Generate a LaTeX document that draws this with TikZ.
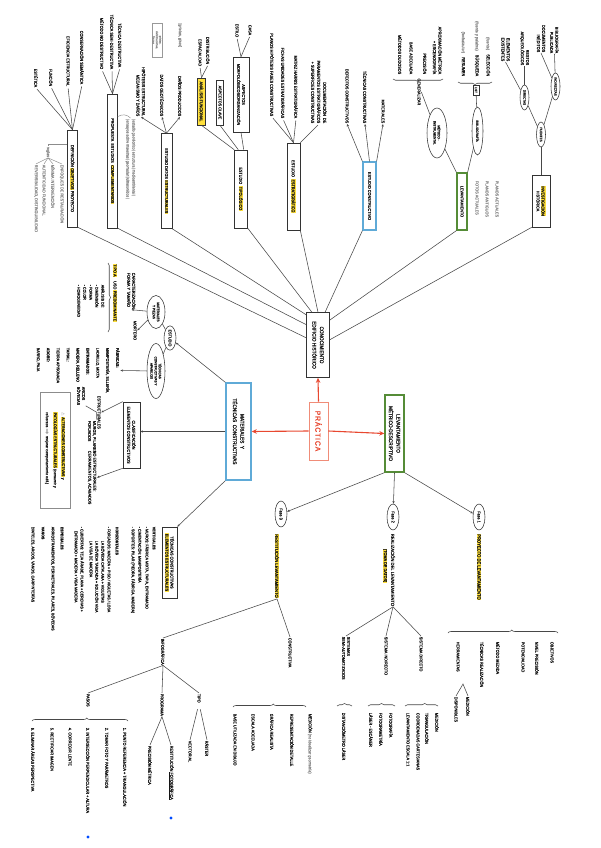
\documentclass[tikz,border=0pt]{standalone}
\usepackage{fontspec}
\setmainfont{Liberation Sans}[FakeStretch=0.9, FakeBold=0.9]
\newfontfamily\dejavu{DejaVu Sans}
\usetikzlibrary{shapes.geometric,arrows.meta,calc,decorations.pathreplacing}
\definecolor{hly}{RGB}{255,224,60}
\definecolor{redc}{RGB}{232,72,48}
\definecolor{redl}{RGB}{240,140,120}
\definecolor{bluec}{RGB}{95,170,215}
\definecolor{greenc}{RGB}{85,140,55}
\definecolor{ink}{RGB}{20,20,20}
\newcommand\fs{\fontsize{4.2}{5}\selectfont}
\newcommand\fm{\fontsize{4.6}{5.8}\selectfont}
\newcommand\fb{\fontsize{5.2}{7.5}\selectfont}
\newcommand\fe{\fontsize{3.4}{4.2}\selectfont}
\newcommand\hlt[1]{{\setlength{\fboxsep}{0.4pt}\colorbox{hly}{#1}}}
\begin{document}
\begin{tikzpicture}[x=1pt,y=-1pt,
  every node/.style={rotate=-90, inner sep=0.6pt, font=\fs, text=ink},
  tl/.style={anchor=west, align=left},
  te/.style={anchor=east, align=right},
  bx/.style={draw=black!80, line width=0.6pt, inner sep=1.2pt, align=center, font=\fs},
  el/.style={ellipse, draw=black!80, line width=0.55pt, inner sep=0.2pt, align=center, font=\fe},
  ln/.style={draw=black!72, line width=0.55pt},
  gln/.style={draw=black!45, line width=0.45pt},
  ar/.style={ln, -{Stealth[length=2.6pt,width=2.2pt]}},
  rar/.style={draw=redc, line width=1.1pt, -{Stealth[length=5pt,width=4.5pt]}},
  gtx/.style={text=black!45},
  brc/.style={ln, decorate, decoration={brace, amplitude=2.5pt}},
  dm/.style={diamond, fill=blue!70!cyan, inner sep=0pt, minimum size=3.2pt}
]
\fill[white] (0,0) rectangle (600,848);
\useasboundingbox (0,0) rectangle (600,848);

% ---------- central ----------
\node[bx, draw=redl, line width=0.8pt, text=redc, font=\fontsize{7.5}{8}\selectfont\addfontfeatures{LetterSpace=12}, minimum width=58pt, minimum height=19pt] (prac) at (318.5,431) {PRÁCTICA};
\node[bx, font=\fb, minimum width=65pt, minimum height=23pt] (conoc) at (318,345) {CONOCIMIENTO\\EDIFICIO HISTÓRICO};
\node[bx, draw=bluec, line width=1.4pt, font=\fb, minimum width=97pt, minimum height=25pt] (mat) at (238.5,431.5) {MATERIALES \ Y\\TÉCNICAS \ CONSTRUCTIVAS};
\node[bx, draw=greenc, line width=1.4pt, font=\fb, minimum width=77pt, minimum height=19pt] (lev) at (394.5,433.5) {LEVANTAMIENTO\\MÉTRICO-DESCRIPTIVO};
\draw[rar] (prac.west) -- (conoc.east);
\draw[rar] (prac.south) -- (mat.north);
\draw[rar] (prac.north) -- (lev.south);

% ---------- fases ----------
\node[el, font=\fs, minimum width=26pt, minimum height=12pt] (f3) at (281,514) {Fase 3};
\node[el, font=\fs, minimum width=26pt, minimum height=12pt] (f2) at (393,517) {Fase 2};
\node[el, font=\fs, minimum width=26pt, minimum height=12pt] (f1) at (479,517) {Fase 1};
\draw[ar] (lev.south east) -- (f3);
\draw[ar] (lev.east) -- (f2);
\draw[ar] (lev.north east) -- (f1);

% Fase 1
\node[tl, font=\fm] (p1) at (479,533) {\hlt{PROYECTO DE LEVANTAMIENTO}};
\draw[brc, decoration={brace, amplitude=3pt, aspect=0.58}] (448,633) -- (558,633);
\foreach \xx/\tt [count=\i] in {552/{OBJETIVOS}, 537/{NIVEL PRECISIÓN}, 523/{POTENCIALIDAD}, 498/{MÉTODO MEDIDA}, 482/{TÉCNICAS REALIZACIÓN}}
  \node[tl] (fa\i) at (\xx,641) {\tt};
\node[tl] (herr) at (458,641) {HERRAMIENTAS};
\coordinate (hap) at (463,684);
\node[tl] (medic) at (468,696) {MEDICIÓN};
\node[tl] (dispo) at (456,696) {DISPONIBLES};
\draw[ln] (medic.west) -- (hap) -- (dispo.west);

% Fase 2
\node[tl, font=\fm] (r2) at (393,533) {REALIZACIÓN DEL LEVANTAMIENTO};
\node[tl] (r2b) at (385,548) {\hlt{[TOMA DE DATOS]}};
\node[tl] (sd) at (421,636) {SISTEMA DIRECTO};
\node[tl] (si) at (386,636) {SISTEMA INDIRECTO};
\node[tl] (ss) at (346,636) {SISTEMAS\\SEMI-AUTOMATIZADOS};
\draw[ln] (r2.east) -- (sd.west);
\draw[ln] (r2.east) -- (si.west);
\draw[ln] (r2.east) -- (ss.west);
\draw[brc, decoration={brace, amplitude=2.5pt, aspect=0.6}] (405,706) -- (438,706);
\draw[brc] (368,706) -- (395,706);
\draw[brc] (337,706) -- (352,706);
\foreach \xx/\tt [count=\i] in {437/{MEDICIÓN}, 427/{TRIANGULACIÓN}, 418/{COORDENADAS CARTESIANAS}, 408/{LEVANTAMIENTO ESCALA 1:1}, 391/{FOTOGRAFÍA}, 381/{FOTOGRAMETRÍA}, 371/{LÁSER - ESCÁNER}, 344/{DISTANCIÓMETRO LÁSER}}
  \node[tl] (sx\i) at (\xx,712) {\tt};

% Fase 3
\node[tl, font=\fm] (r3) at (277,533) {\hlt{RESTITUCIÓN LEVANTAMIENTO}};
\node[tl] (cst) at (290,637) {CONSTRUCTIVA};
\node[tl] (inf) at (163,638) {INFOGRÁFICA};
\draw[ln] (r3.east) -- (cst.west);
\draw[ln] (r3.east) -- (inf.west);
\draw[brc, decoration={brace, amplitude=3pt, aspect=0.55}] (233,707) -- (306,707);
\foreach \xx/\tt [count=\i] in {310/{MEDICIÓN \textcolor{black!45}{(no idealizar geometría)}}, 292/{REPRESENTACIÓN DETALLE}, 272/{GRÁFICA REALISTA}, 253/{ESCALA ADECUADA}, 235/{BASE UTILIZADA EN DIBUJO}}
  \node[tl] (cx\i) at (\xx,713) {\tt};
\node[tl] (pasos) at (88,693) {PASOS};
\node[tl] (prog) at (162,693) {PROGRAMA};
\node[tl] (tip) at (199,693) {TIPO};
\draw[ln] (inf.east) -- (pasos.west);
\draw[ln] (inf.east) -- (prog.west);
\draw[ln] (inf.east) -- (tip.west);
\node[tl] (vec) at (190,740) {VECTORIAL};
\node[tl] (ras) at (207,740) {RÁSTER};
\draw[ln, shorten <=6pt] (tip.east) -- (vec.west);
\draw[ln, shorten <=6pt] (tip.east) -- (ras.west);
\node[tl] (pm) at (150,745) {PRECISIÓN MÉTRICA};
\node[tl] (rf) at (171,745) {RESTITUCIÓN \underline{FOTOGRÁFICA}};
\draw[ln] (prog.east) -- (pm.west);
\draw[ln] (prog.east) -- (rf.west);
\node[dm] (dm1) at (171,818) {};
\draw[brc, decoration={brace, amplitude=3pt, aspect=0.57}] (32,721) -- (128,721);
\foreach \xx/\tt [count=\i] in {125/{1. PUNTO REFERENCIA + TRIANGULACIÓN}, 107/{2. TOMAR FOTO Y PARÁMETROS}, 88/{3. INTERSECCIÓN PERPENDICULAR + ALTURA}, 70/{4. CORREGIR LENTE}, 52/{5. RECTIFICAR IMAGEN}, 33/{6. ELIMINAR ÁREAS PERSPECTIVA}}
  \node[tl] (px\i) at (\xx,727) {\tt};
\node[dm] (dm2) at (88,837) {};

% ---------- materiales cluster ----------
\node[el, font=\fs, minimum width=24pt, minimum height=12pt] (est) at (170,338) {ESTUDIO};
\draw[ar] (mat.south west) -- (est);
\node[el, minimum width=33pt, minimum height=18pt] (ea) at (156,312) {MATERIALES\\Y PIEZAS};
\node[el, minimum width=55pt, minimum height=18pt] (eb) at (156,371) {TÉCNICAS\\CONSTRUCTIVAS Y\\APAREJOS};
\draw[ln] (est) -- (ea);
\draw[ln] (est) -- (eb);
\node[tl] (car) at (131.5,272) {CARACTERIZACIÓN\\FORMA Y TAMAÑO};
\node[tl] (mort) at (135,320) {MORTERO};
\draw[ar] (ea) -- (car.east);
\draw[ar] (ea) -- (mort.north);
\draw[brc] (108,263) -- (108,332);
\node[tl] (tpa) at (115,263) {\hlt{TIPO A}\quad USO \hlt{PREDOMINANTE}};
\node[tl, font=\fontsize{4}{6}\selectfont] (anal) at (91,284) {ANÁLISIS DE:\\- DIMENSIÓN\\- FORMA\\- COLOR\\- HOMOGENEIDAD};
\node[tl, font=\fontsize{4}{9.9}\selectfont] (fab) at (78,347) {\textbf{FÁBRICAS:}\\MAMPOSTERÍA, SILLERÍA,\\LADRILLO, MIXTA\\\textbf{ENTRAMADOS:}\\MADERA, RELLENO\\\textbf{TAPIAL:}\\TIERRA APISONADA\\\textbf{ADOBE:}\\BARRO, PAJA};
\draw[ar] (eb) -- (fab.north);

\node[bx, minimum width=66pt, minimum height=17pt] (cla) at (131.5,435) {CLASIFICACIÓN\\ELEMENTOS CONSTRUCTIVOS};
\draw[ar] (mat.south) -- (cla.north |- mat.south);
\node[tl] (estrc) at (99,395) {ESTRUCTURALES};
\node[tl] (ab) at (81,386) {ARCOS\\BÓVEDAS};
\node[tl] (sf) at (92,420) {MUROS, PILARES\\FORJADOS};
\node[tl] (noes) at (92,450) {NO ESTRUCTURALES:\\CERRAMIENTOS, ACABADOS};
\draw[ar] (cla.south west) -- (estrc.north);
\draw[ar] (cla.south east) -- (noes.north);
\draw[ln] (estrc.south) -- (ab.north east);
\draw[ln] (estrc.south) -- (sf.north west);

\node[bx, draw=black!45, font=\fontsize{4}{8}\selectfont, align=left, minimum width=116pt, minimum height=30pt, inner sep=2pt] (warn) at (55,450) {{\dejavu\textcolor{black!50}{⚠}} \hlt{ALTERACIONES CONSTRUCTIVAS} y\\\hlt{PATOLOGÍAS ESTRUCTURALES} (consumir y\\refuerzos $\Rightarrow$ mejorar comportamiento edif.)};

\node[bx, minimum width=71pt, minimum height=15pt] (tec) at (169.5,562.5) {TÉCNICAS CONSTRUCTIVAS\\\hlt{ELEMENTOS ESTRUCTURALES}};
\draw[ar] (mat.south east) -- (tec.north west);
\foreach \xx/\yy/\tt [count=\i] in {
 154/526/{\textbf{VERTICALES}},
 147/526/{- MUROS: FÁBRICA MIXTA, TAPIA, ENTRAMADO},
 140/526/{- CIMENTACIÓN: MAMPOSTERÍA},
 133/526/{- SOPORTES: PILAR (PIEDRA, FÁBRICA, MADERA)},
 117/526/{\textbf{HORIZONTALES}},
 109/526/{- FORJADOS: MADERA + PISO / VIGUETAS / LOSA},
 103/540/{LA BÓVEDA CATALANA + VIGUETAS},
 97/540/{LA BÓVEDA TABICADA + SOLUCIÓN VIGA},
 91/540/{LA VIGA DE MADERA},
 82/526/{- CUBIERTAS: TEJA ÁRABE, PLANA + CERCHAS +},
 76/530/{ENTRAMADO + MADERA + VIGA MADERA},
 62/526/{\textbf{ESPECIALES}},
 53/526/{ARRIOSTRAMIENTOS, PERIMETRALES, PILARES, BÓVEDAS},
 43/526/{\textbf{VANOS}},
 33/526/{DINTELES, ARCOS, VANOS, CARPINTERÍAS}}
 \node[tl, font=\fontsize{4}{5}\selectfont] (tc\i) at (\xx,\yy) {\tt};

% ---------- topic boxes ----------
\node[bx, minimum width=97pt, minimum height=10pt] (defi) at (72.5,178.5) {DEFINICIÓN \hlt{OBJETIVOS} PROYECTO};
\node[bx, minimum width=134pt, minimum height=10pt] (prop) at (112.5,161) {PROPUESTA \ ESTUDIOS \ \hlt{COMPLEMENTARIOS}};
\node[bx, minimum width=95pt, minimum height=11pt] (datos) at (166.5,181) {ESTUDIO DATOS \hlt{ESTRUCTURALES}};
\node[bx, minimum width=78pt, minimum height=13pt] (tipo) at (241,189) {ESTUDIO \ \hlt{TIPOLÓGICO}};
\node[bx, minimum width=87pt, minimum height=13pt] (estr) at (293.5,186.5) {ESTUDIO \ \hlt{ESTRATIGRÁFICO}};
\node[bx, draw=bluec, line width=1.2pt, minimum width=68pt, minimum height=13pt] (cons) at (369.5,196) {ESTUDIO CONSTRUCTIVO};
\node[bx, draw=greenc, line width=1.2pt, minimum width=57pt, minimum height=10pt] (levb) at (462,201.5) {LEVANTAMIENTO};
\node[bx, minimum width=52pt, minimum height=18pt] (inv) at (541,201) {\hlt{INVESTIGACIÓN}\\HISTÓRICA};

\draw[ln] (defi.north east) -- ($(conoc.south west)!0.39!(conoc.south east)$);
\draw[ln] (prop.north east) -- ($(conoc.south west)!0.19!(conoc.south east)$);
\draw[ln] (datos.north east) -- ($(conoc.south west)!0.04!(conoc.south east)$);
\draw[ln] (tipo.north east) -- ($(conoc.south west)!0.24!(conoc.north west)$);
\draw[ln] (estr.north east) -- ($(conoc.south west)!0.5!(conoc.north west)$);
\draw[ln] (cons.south east) -- ($(conoc.south west)!0.8!(conoc.north west)$);
\draw[ln] (levb.south east) -- ($(conoc.north west)!0.12!(conoc.north east)$);
\draw[ln] (inv.south east) -- ($(conoc.north west)!0.42!(conoc.north east)$);

% definición
\foreach \xx/\yy/\tt [count=\i] in {82/85/{CONSERVACIÓN SEMÁNTICA}, 68/87/{EFICIENCIA ESTRUCTURAL}, 51/87/{FUNCIÓN}, 36/88/{ESTÉTICA}}
 { \node[te] (d\i) at (\xx,\yy) {\tt};
   \draw[ln, shorten <=1.5pt] (d\i.east) -- (defi.west); }
\node[tl, gtx] (regl) at (48,146) {reglas};
\draw[gln] ($(defi.south west)!0.15!(defi.south east)$) -| (regl.west);
\foreach \xx/\tt [count=\i] in {62/{ENFOQUES DE RESTAURACIÓN}, 53/{MÍNIMA INTERVENCIÓN}, 44/{AUTENTICIDAD FUNCIONAL}, 36/{REVERSIBILIDAD, DISTINGUIBILIDAD}}
 { \node[tl, gtx] (g\i) at (\xx,164) {\tt};
   \draw[gln] (regl.east) -- (g\i.west); }

% propuesta
\foreach \xx/\yy/\tt [count=\i] in {120/68/{TÉCNICA DESTRUCTIVA}, 112/70/{TÉCNICA SEMI-DESTRUCTIVA}, 102/70/{MÉTODO NO DESTRUCTIVO}}
 { \node[te] (pp\i) at (\xx,\yy) {\tt};
   \draw[ln, shorten <=1.5pt] (pp\i.east) -- (prop.west); }
\node[tl, gtx, font=\fontsize{3.9}{6}\selectfont] (pg) at (130.5,118) {|\,estudio geotécnico\,|\,estructura\,|\,medioambiental\,|\\|\,ensayos sobre muestras\,|\,georradar\,|\,ultrasonidos\,|};
\draw[gln] ($(prop.north west)!0.17!(prop.north east)$) to[bend left=40] (pg.west);

% datos estructurales
\node[te] (t1) at (180,117) {DAÑOS PRODUCIDOS};
\node[te] (t2) at (162,117) {DATOS GEOTÉCNICOS};
\node[te, font=\fontsize{4.2}{5.5}\selectfont] (t3) at (141,117) {HIPÓTESIS ESTRUCTURAL\\MECANISMO Y DAÑOS};
\draw[ar] (datos.west) -- (t1.east);
\draw[ar] (datos.west) -- (t2.east);
\draw[ar] (datos.west) -- (t3.east);
\node[te, gtx] (g5) at (180,48) {[grietas, giros]};
\node[bx, draw=black!40, text=black!45, font=\fontsize{2.9}{3.4}\selectfont, minimum width=34pt, minimum height=10pt, inner sep=0.5pt] (g6) at (157,40) {grietas,\\deformaciones,\\fisuras};

% tipológico
\node[bx, minimum width=75pt, minimum height=16pt] (s1) at (241,94.5) {ASPECTOS\\MORFOLÓGICOS/ORGANIZACIÓN};
\node[bx, minimum width=45pt, minimum height=7pt, inner sep=0.8pt] (s2) at (220,102.5) {ASPECTOS CLAVE};
\node[bx, fill=hly, minimum width=47pt, minimum height=8pt, inner sep=0.8pt] (s3) at (201.5,101.5) {ANÁLISIS FUNCIONAL};
\draw[ln] (s1.east) -- ($(tipo.south west)!0.7!(tipo.north west)$);
\draw[ln] (s2.east) -- ($(tipo.south west)!0.3!(tipo.north west)$);
\draw[ln] (s3.east) -- (tipo.south west);
\node[te] (dis) at (208,65) {DISTRIBUCIÓN};
\node[te] (esp) at (200,67) {ESPACIALIDAD};
\draw[ln, shorten <=1pt] (dis.east) -- (s3.west);
\draw[ln, shorten <=1pt] (esp.east) -- (s3.west);
\node[te] (casa) at (250,36) {CASA};
\node[te] (estilo) at (237,38) {ESTILO};
\draw[ln, shorten <=1pt] (casa.east) -- (s1.west);
\draw[ln, shorten <=1pt] (estilo.east) -- (s1.west);

% estratigráfico
\foreach \xx/\yy/\tt [count=\i] in {272/117/{PLANOS HIPÓTESIS FASES CONSTRUCTIVAS}, 283/119/{FICHAS UNIDADES ESTRATIGRÁFICAS}, 296/119/{MATRIZ HARRIS ESTRATIGRÁFICA}}
 { \node[te] (e\i) at (\xx,\yy) {\tt};
   \draw[ln, shorten <=1.5pt] (e\i.east) -- (estr.west); }
\node[te, font=\fontsize{4.2}{6}\selectfont] (doc) at (319,124) {DOCUMENTACIÓN \ DE\\PARAMENTOS ESTRATIGRÁFICOS\\+ SUPERFICIES CONSTRUCTIVAS};
\draw[ln, shorten <=1.5pt] (doc.east) -- (estr.north west);

% constructivo
\node[te] (c1) at (347,124) {DEFECTOS CONSTRUCTIVOS};
\node[te] (c2) at (365,124) {TÉCNICAS CONSTRUCTIVAS};
\node[te] (c3) at (383,124) {MATERIALES};
\draw[ar] (cons.south west) -- (c1.east);
\draw[ar] (cons.west) -- (c2.east);
\draw[ar] (cons.north west) -- (c3.east);

% levantamiento (arriba)
\node[tl, gtx] (lg1) at (497,180) {PLANOS ACTUALES};
\node[tl, gtx] (lg2) at (487,180) {PLANOS ANTIGUOS};
\node[tl, gtx] (lg3) at (477,180) {FOTOS ACTUALES};
\node[el, minimum width=50pt, minimum height=20pt] (em) at (437,133) {MÉTODO -\\INSTRUMENTAL};
\node[el, minimum width=48pt, minimum height=11pt] (eff) at (477.5,131) {BIBLIOGRAFÍA};
\draw[ln] (levb.south west) -- (em);
\draw[ln] (levb.north west) -- (eff);
\node[te] (gen) at (419,106) {GENERALIZAR};
\draw[ln] (em) -- (gen.north);
\draw[brc] (443,79) -- (393,79);
\node[te, font=\fontsize{4.2}{5.5}\selectfont] (mi1) at (437.5,75) {APROXIMACIÓN MÉTRICA\\+ ESCENOGRAFÍA};
\node[te] (mi2) at (425,75) {PRECISIÓN};
\node[te] (mi3) at (411,75) {BASE ADECUADA};
\node[te] (mi4) at (400,75) {MÉTODOS DUDOSOS};
\node[bx, font=\fontsize{3}{3.5}\selectfont, minimum width=10pt, minimum height=6pt, inner sep=0.5pt] (lst) at (476,90) {LIST};
\draw[ln] (eff) -- (lst);
\draw[brc] (492,82) -- (458,82);
\node[te] (bi1) at (488,77) {\textcolor{black!45}{(fuente)}\quad SELECCIÓN};
\node[te] (bi2) at (477,77) {\textcolor{black!45}{(fuente y palabra)}\quad BÚSQUEDA};
\node[te] (bi3) at (463,77) {\textcolor{black!45}{(fecha/autor)}\quad RESUMEN};

% investigación histórica
\node[el, minimum width=25pt, minimum height=9pt] (fue) at (541,134.5) {FUENTES};
\node[el, minimum width=25pt, minimum height=9pt] (dir) at (524.5,97.5) {DIRECTAS};
\node[el, minimum width=27pt, minimum height=9pt] (ind) at (555.5,86.5) {INDIRECTAS};
\draw[ln] (inv.west) -- (fue);
\draw[ln] (fue) -- (dir);
\draw[ln] (fue) -- (ind);
\node[te, font=\fontsize{4.2}{5.2}\selectfont] (ih1) at (524.5,66) {RESTOS\\ARQUEOLÓGICOS};
\node[te, font=\fontsize{4.2}{5.2}\selectfont] (ih2) at (505.5,62) {ELEMENTOS\\EXISTENTES};
\node[te, font=\fontsize{4.2}{5.2}\selectfont] (ih3) at (554.5,54) {BIBLIOGRAFÍA\\PUBLICADA};
\node[te, font=\fontsize{4.2}{5.2}\selectfont] (ih4) at (541,53) {DOCUMENTOS\\INÉDITOS};
\draw[ln] (dir) -- (ih1.east);
\draw[ln] (dir) -- (ih2.east);
\draw[ln] (ind) -- (ih3.east);
\draw[ln] (ind) -- (ih4.east);
\end{tikzpicture}
\end{document}
